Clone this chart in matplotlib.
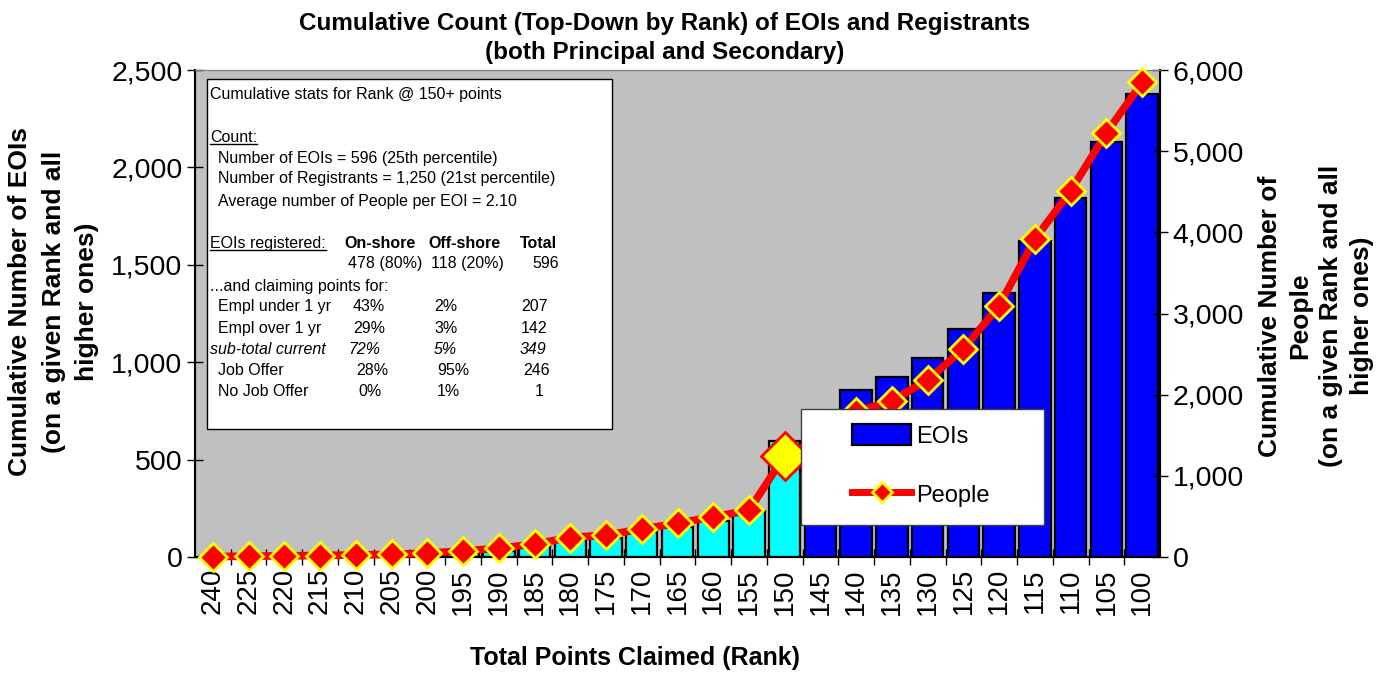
import numpy as np
import matplotlib
matplotlib.use("Agg")
import matplotlib.pyplot as plt
from matplotlib.patches import Patch, Rectangle
from matplotlib.lines import Line2D
from matplotlib.ticker import FuncFormatter

plt.rcParams['font.family'] = ['Liberation Sans', 'DejaVu Sans']

# ranks (top-down) and cumulative counts
ranks = ['240', '225', '220', '215', '210', '205', '200', '195', '190', '185',
         '180', '175', '170', '165', '160', '155', '150', '145', '140', '135',
         '130', '125', '120', '115', '110', '105', '100']
eois = [1, 3, 4, 6, 8, 10, 14, 20, 31, 60,
        86, 99, 126, 155, 187, 234, 596, 700, 857, 922,
        1023, 1169, 1357, 1622, 1841, 2129, 2378]
people = [5, 10, 14, 18, 25, 32, 47, 74, 106, 160,
          240, 270, 343, 415, 495, 573, 1250, 1450, 1790, 1925,
          2180, 2562, 3095, 3916, 4511, 5225, 5846]
cutoff = '150'

W, H = 1394, 673
fig = plt.figure(figsize=(W / 100, H / 100), dpi=100)


def fx(x):
    return x / W


def fy(y):
    return 1 - y / H


ax = fig.add_axes([fx(195), fy(557), fx(1160) - fx(195), fy(70) - fy(557)])
ax.set_facecolor('#C0C0C0')

x = np.arange(len(ranks))
cut = ranks.index(cutoff)
colors = ['#00FFFF' if i <= cut else '#0000FF' for i in range(len(ranks))]
ax.bar(x, eois, width=0.88, color=colors, edgecolor='black', linewidth=1.6, zorder=2)

ax.set_xlim(-0.5, len(ranks) - 0.5)
ax.set_ylim(0, 2500)
ax.set_yticks(np.arange(0, 2501, 500))
ax.yaxis.set_major_formatter(FuncFormatter(lambda v, p: f'{v:,.0f}'))
ax.set_xticks(x)
ax.set_xticklabels(ranks, rotation=90, fontsize=20)
ax.set_xticks(x[:-1] + 0.5, minor=True)
ax.tick_params(axis='x', which='major', length=0, pad=8)
ax.tick_params(axis='x', which='minor', direction='inout', length=12, width=1)
ax.tick_params(axis='y', direction='inout', length=12, width=1, labelsize=20.5, pad=3)

for s in ['top', 'right']:
    ax.spines[s].set_color('#808080')
ax.spines['left'].set_linewidth(1.5)
ax.spines['bottom'].set_linewidth(1.5)

ax2 = ax.twinx()
ax2.set_ylim(0, 6000)
ax2.set_yticks(np.arange(0, 6001, 1000))
ax2.yaxis.set_major_formatter(FuncFormatter(lambda v, p: f'{v:,.0f}'))
ax2.tick_params(axis='y', direction='inout', length=12, width=1, labelsize=20.5, pad=3)
ax2.spines['right'].set_linewidth(1.5)
ax2.spines['top'].set_color('#808080')
ax2.plot(x, people, color='#FF0000', lw=5.5, marker='D', ms=14,
         mfc='#FF0000', mec='#FFFF00', mew=2, zorder=3, clip_on=False)
ax2.plot(x[cut], people[cut], marker='D', ms=24, mfc='#FFFF00', mec='#FF0000',
         mew=2, zorder=4, clip_on=False)

# titles and axis labels
fig.text(fx(665), fy(38), 'Cumulative Count (Top-Down by Rank) of EOIs and Registrants\n'
         '(both Principal and Secondary)', ha='center', va='center',
         fontsize=17.5, fontweight='bold', linespacing=1.32)
fig.text(fx(635), fy(658), 'Total Points Claimed (Rank)', ha='center', va='center',
         fontsize=18, fontweight='bold')
fig.text(fx(54), fy(302), 'Cumulative Number of EOIs\n(on a given Rank and all\nhigher ones)',
         ha='center', va='center', rotation=90, fontsize=19, fontweight='bold',
         linespacing=1.5, multialignment='center')
fig.text(fx(1316), fy(316), 'Cumulative Number of\nPeople\n(on a given Rank and all\nhigher ones)',
         ha='center', va='center', rotation=90, fontsize=19, fontweight='bold',
         linespacing=1.35, multialignment='center')

# stats box
fig.add_artist(Rectangle((fx(207), fy(429)), fx(612) - fx(207), fy(79) - fy(429),
                         transform=fig.transFigure, facecolor='white',
                         edgecolor='black', lw=1, zorder=4))
fs = 11.5
rows = [
    (95, [(210, 'Cumulative stats for Rank @ 150+ points', 'normal', 'normal')]),
    (137, [(210, 'Count:', 'normal', 'normal')]),
    (158, [(218, 'Number of EOIs = 596 (25th percentile)', 'normal', 'normal')]),
    (179, [(218, 'Number of Registrants = 1,250 (21st percentile)', 'normal', 'normal')]),
    (201, [(218, 'Average number of People per EOI = 2.10', 'normal', 'normal')]),
    (243, [(210, 'EOIs registered:', 'normal', 'normal'), (344, 'On-shore', 'bold', 'normal'),
           (428, 'Off-shore', 'bold', 'normal'), (520, 'Total', 'bold', 'normal')]),
    (264, [(348, '478 (80%)', 'normal', 'normal'), (431, '118 (20%)', 'normal', 'normal'),
           (532, '596', 'normal', 'normal')]),
    (286, [(210, '...and claiming points for:', 'normal', 'normal')]),
    (307, [(218, 'Empl under 1 yr', 'normal', 'normal'), (353, '43%', 'normal', 'normal'),
           (434, '2%', 'normal', 'normal'), (521, '207', 'normal', 'normal')]),
    (328, [(218, 'Empl over 1 yr', 'normal', 'normal'), (353, '29%', 'normal', 'normal'),
           (434, '3%', 'normal', 'normal'), (521, '142', 'normal', 'normal')]),
    (349, [(210, 'sub-total current', 'normal', 'italic'), (348, '72%', 'normal', 'italic'),
           (434, '5%', 'normal', 'italic'), (520, '349', 'normal', 'italic')]),
    (370, [(218, 'Job Offer', 'normal', 'normal'), (356, '28%', 'normal', 'normal'),
           (437, '95%', 'normal', 'normal'), (523, '246', 'normal', 'normal')]),
    (392, [(218, 'No Job Offer', 'normal', 'normal'), (358, '0%', 'normal', 'normal'),
           (437, '1%', 'normal', 'normal'), (535, '1', 'normal', 'normal')]),
]
underlined = []
for yy, items in rows:
    for xx, s, wt, st in items:
        t = fig.text(fx(xx), fy(yy), s, ha='left', va='center', fontsize=fs,
                     fontweight=wt, fontstyle=st, zorder=5)
        if s in ('Count:', 'EOIs registered:'):
            underlined.append(t)

renderer = fig.canvas.get_renderer()
for t in underlined:
    bb = t.get_window_extent(renderer).transformed(fig.transFigure.inverted())
    fig.add_artist(Line2D([bb.x0, bb.x1], [bb.y0 + 0.001, bb.y0 + 0.001],
                          transform=fig.transFigure, color='black', lw=1, zorder=5))

# legend
fig.add_artist(Rectangle((fx(801), fy(525)), fx(1044) - fx(801), fy(409) - fy(525),
                         transform=fig.transFigure, facecolor='white',
                         edgecolor='#404040', lw=1, zorder=4))
handles = [Patch(facecolor='#0000FF', edgecolor='black', lw=1.6),
           Line2D([], [], color='#FF0000', lw=5, marker='D', ms=10,
                  mfc='#FF0000', mec='#FFFF00', mew=2)]
leg = fig.legend(handles, ['EOIs', 'People'], loc='upper left',
                 bbox_to_anchor=(fx(852), fy(424)), bbox_transform=fig.transFigure,
                 frameon=False, fontsize=17, borderpad=0, borderaxespad=0,
                 handlelength=2.5, handleheight=1.0, handletextpad=0.2, labelspacing=1.5)
leg.set_zorder(6)

fig.savefig('out.png', dpi=100)
